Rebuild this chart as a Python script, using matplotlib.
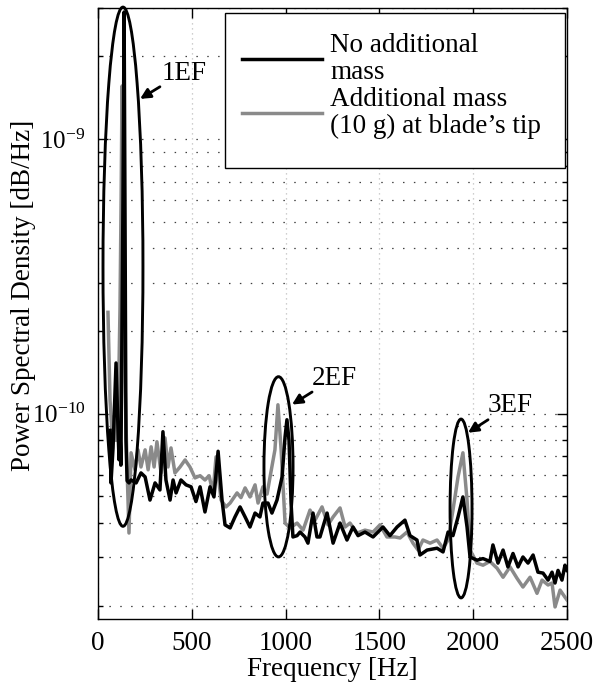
import numpy as np
import matplotlib
matplotlib.use("Agg")
import matplotlib.pyplot as plt
from matplotlib.patches import Ellipse, Rectangle
from matplotlib.ticker import NullFormatter, FixedLocator, LogFormatterMathtext

plt.rcParams['font.family'] = ['Liberation Serif', 'DejaVu Serif']
plt.rcParams['mathtext.fontset'] = 'custom'
plt.rcParams['mathtext.rm'] = 'Liberation Serif'
plt.rcParams['mathtext.it'] = 'Liberation Serif:italic'
plt.rcParams['axes.unicode_minus'] = False

# ---------------- data (frequency in Hz, PSD in units of 1e-11) ----------------
freq_no_mass = [64, 69, 80, 96, 106, 112, 117, 122, 133, 139, 144, 149, 155, 165, 176, 203,
                229, 251, 277, 304, 330, 346, 362, 384, 400, 416, 442, 469, 496, 522, 544,
                570, 597, 618, 640, 661, 677, 704, 730, 757, 784, 810, 837, 863, 879,
                906, 927, 954, 981, 997, 1007, 1018, 1029, 1039, 1061, 1077, 1103, 1119,
                1146, 1167, 1183, 1221, 1253, 1290, 1327, 1359, 1386, 1423, 1466, 1519,
                1556, 1594, 1636, 1663, 1700, 1716, 1754, 1807, 1839, 1866, 1892, 1919,
                1945, 1967, 1983, 2020, 2052, 2089, 2105, 2132, 2159, 2185, 2212, 2239,
                2265, 2292, 2319, 2345, 2372, 2399, 2420, 2436, 2452, 2473, 2489, 2500]
psd_no_mass = [8.7, 5.6, 7.5, 15.3, 9.0, 6.8, 8.7, 6.5, 60, 290, 50, 8.0, 5.7, 5.6, 5.74, 5.60,
               6.09, 5.89, 4.85, 5.60, 5.28, 8.60, 5.74, 4.85, 5.74, 5.15, 5.74, 5.51, 5.42,
               4.79, 5.42, 4.39, 5.42, 4.98, 7.3, 4.85, 3.94, 3.84, 4.21, 4.58, 4.21,
               3.87, 4.35, 4.21, 4.73, 4.73, 4.35, 4.85, 5.89, 8.24, 9.51, 8.0, 4.73, 3.56,
               3.6, 3.71, 3.56, 3.38, 4.35, 3.56, 3.56, 4.35, 3.38, 4.00, 3.47, 3.87, 3.6,
               3.71, 3.56, 3.87, 3.6, 3.87, 4.10, 3.6, 3.47, 3.06, 3.19, 3.24, 3.14, 3.71,
               3.6, 4.21, 4.98, 3.87, 3.01, 2.93, 2.97, 2.9, 3.33, 2.86, 3.19, 2.77, 3.1,
               2.77, 3.01, 2.86, 3.06, 2.65, 2.63, 2.48, 2.65, 2.42, 2.69, 2.48, 2.81, 2.69]

freq_mass = [53, 64, 75, 85, 96, 107, 117, 123, 128, 133, 144, 155, 165, 176, 197, 213, 229,
             251, 267, 283, 299, 314, 336, 357, 373, 389, 410, 437, 464, 490, 517, 544, 570,
             592, 613, 629, 656, 682, 704, 741, 762, 784, 810, 837, 853, 879, 901, 917,
             943, 959, 976, 997, 1023, 1061, 1093, 1130, 1157, 1194, 1226, 1253, 1290, 1317,
             1343, 1381, 1423, 1466, 1503, 1540, 1583, 1610, 1647, 1679, 1706, 1732, 1770,
             1807, 1839, 1866, 1892, 1919, 1945, 1967, 1983, 2020, 2052, 2089, 2127, 2159,
             2196, 2233, 2265, 2303, 2340, 2367, 2399, 2420, 2436, 2463, 2489, 2500]
psd_mass = [23.4, 11.2, 8.53, 9.75, 8.0, 9.5, 24, 60, 156, 60, 13, 6.25, 3.68, 7.21, 6.25,
            7.39, 6.4, 7.39, 6.25, 7.58, 6.4, 7.91, 6.09, 8.17, 6.4, 7.51, 6.09, 6.4, 6.79,
            6.4, 5.84, 5.95, 5.74, 5.95, 5.15, 6.97, 4.85, 4.58, 4.73, 5.15, 4.95,
            5.37, 4.98, 5.51, 4.73, 5.42, 5.1, 5.89, 7.39, 10.78, 7.39, 4.00, 3.84, 4.00,
            3.77, 4.46, 4.10, 4.58, 3.94, 4.21, 4.54, 3.87, 4.0, 3.68, 3.77, 3.71, 3.94,
            3.56, 3.56, 3.53, 3.71, 3.38, 3.19, 3.47, 3.38, 3.47, 3.24, 3.47, 4.46, 5.89,
            7.21, 4.85, 3.19, 2.86, 2.81, 2.9, 2.74, 2.54, 2.77, 2.52, 2.34, 2.54, 2.22,
            2.48, 2.38, 2.42, 1.98, 2.28, 2.15, 2.1]

labels = ['No additional\nmass', 'Additional mass\n(10 g) at blade\u2019s tip']

x_ticks = [0, 500, 1000, 1500, 2000, 2500]
y_major_ticks = [1e-10, 1e-9]
y_minor_ticks = [2e-11, 3e-11, 4e-11, 5e-11, 6e-11, 7e-11, 8e-11, 9e-11,
                 2e-10, 3e-10, 4e-10, 5e-10, 6e-10, 7e-10, 8e-10, 9e-10, 2e-9, 3e-9]

peak_names = ['1EF', '2EF', '3EF']
ell_center_hz = [133, 962, 1935]
ell_center_psd = [3.43e-10, 6.41e-11, 4.52e-11]
ell_width_hz = [213, 155, 117]
ell_height_dec = [1.89, 0.656, 0.651]
text_hz = [458, 1258, 2196]
text_psd = [1.73e-9, 1.34e-10, 1.07e-10]
arrow_tail = [(330, 1.55e-9), (1141, 1.20e-10), (2079, 9.51e-11)]
arrow_head = [(224, 1.40e-9), (1034, 1.08e-10), (1972, 8.53e-11)]

xlim = (0, 2500)
ylim = (1.79e-11, 3.0e-9)

# ---------------- figure ----------------
fig = plt.figure(figsize=(5.97, 6.88), dpi=100)
ax = fig.add_axes([0.1642, 0.1003, 0.7856, 0.8881])

l_mass, = ax.plot(freq_mass, np.array(psd_mass) * 1e-11, color='#8a8a8a', lw=2.5,
                  label=labels[1], zorder=3, solid_joinstyle='round')
l_none, = ax.plot(freq_no_mass, np.array(psd_no_mass) * 1e-11, color='black', lw=2.5,
                  label=labels[0], zorder=4, solid_joinstyle='round')

ax.set_yscale('log')
ax.set_xlim(*xlim)
ax.set_ylim(*ylim)
ax.set_xticks(x_ticks)
ax.yaxis.set_major_locator(FixedLocator(y_major_ticks))
ax.yaxis.set_minor_locator(FixedLocator(y_minor_ticks))
ax.yaxis.set_major_formatter(LogFormatterMathtext())
ax.yaxis.set_minor_formatter(NullFormatter())

fs = 19.5
ax.tick_params(which='both', direction='in', top=True, right=True, width=1.0)
ax.tick_params(axis='x', labelsize=fs)
ax.tick_params(axis='y', labelsize=18)
ax.tick_params(which='major', length=7, pad=9)
ax.tick_params(which='minor', length=3.5)
for s in ax.spines.values():
    s.set_linewidth(1.0)

# grid
ax.yaxis.grid(True, which='both', linestyle=(0, (1.2, 7.5)), color='0.25', lw=0.9)
ax.xaxis.grid(True, which='major', linestyle=(0, (1, 3)), color='0.75', lw=0.9)
ax.set_axisbelow(True)

ax.set_xlabel('Frequency [Hz]', fontsize=fs)
ax.set_ylabel('Power Spectral Density [dB/Hz]', fontsize=fs)
ax.xaxis.set_label_coords(0.5, -0.062)
ax.yaxis.set_label_coords(-0.133, 0.53)

# ellipses + arrows + labels
ldec = np.log10(ylim[1]) - np.log10(ylim[0])
for i, name in enumerate(peak_names):
    cx = ell_center_hz[i] / (xlim[1] - xlim[0])
    cy = (np.log10(ell_center_psd[i]) - np.log10(ylim[0])) / ldec
    w = ell_width_hz[i] / (xlim[1] - xlim[0])
    h = ell_height_dec[i] / ldec
    e = Ellipse((cx, cy), w, h, transform=ax.transAxes, fill=False, edgecolor='black',
                lw=2.1, zorder=5, clip_on=False)
    ax.add_patch(e)
    ax.annotate('', xy=arrow_head[i], xytext=arrow_tail[i], xycoords='data',
                arrowprops=dict(arrowstyle='-|>,head_length=0.6,head_width=0.3', color='black',
                                lw=2.0, shrinkA=0, shrinkB=0), zorder=6)
    ax.text(text_hz[i], text_psd[i], name, fontsize=fs, ha='center', va='center', zorder=6)

# legend: manual frame + frameless legend
frame = Rectangle((0.2708, 0.7381), 0.9957 - 0.2708, 0.9918 - 0.7381, transform=ax.transAxes,
                  facecolor='white', edgecolor='black', lw=1.0, zorder=7)
ax.add_patch(frame)
leg = ax.legend(handles=[l_none, l_mass], loc='upper left', bbox_to_anchor=(0.307, 0.959),
                borderaxespad=0, borderpad=0, fontsize=fs, handlelength=2.95,
                handletextpad=0.3, labelspacing=0.1, frameon=False)
for t in leg.get_texts():
    t.set_linespacing(1.08)
leg.set_zorder(8)

fig.savefig('out.png', dpi=100)
